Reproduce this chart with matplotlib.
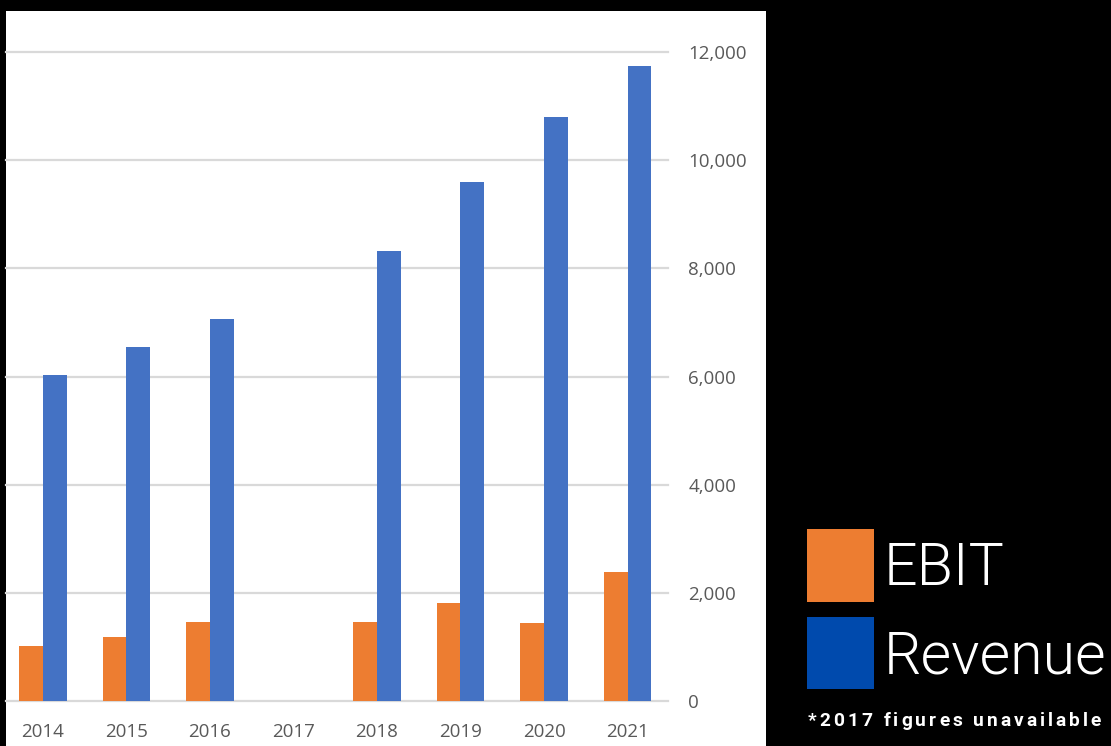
import matplotlib
matplotlib.use("Agg")
import matplotlib.pyplot as plt
import numpy as np
from matplotlib.patches import Rectangle
from matplotlib.font_manager import FontProperties

# ---- data ----
years = ["2014", "2015", "2016", "2017", "2018", "2019", "2020", "2021"]
ebit = [1020, 1190, 1465, np.nan, 1465, 1805, 1450, 2380]
revenue = [6030, 6545, 7060, np.nan, 8320, 9595, 10795, 11740]
yticks = [0, 2000, 4000, 6000, 8000, 10000, 12000]
ytick_labels = ["0", "2,000", "4,000", "6,000", "8,000", "10,000", "12,000"]
legend_labels = ["EBIT", "Revenue"]
footnote = "*2017 figures unavailable"

W, H = 1111, 746
fig = plt.figure(figsize=(W / 100, H / 100), dpi=100, facecolor="black")

def fx(x):
    return x / W

def fy(y):
    return 1 - y / H

# white panel
fig.patches.append(Rectangle((fx(6), 0), fx(766) - fx(6), fy(11), transform=fig.transFigure,
                             facecolor="white", edgecolor="none", zorder=-5))

ax_left, ax_right, ax_top, ax_bot = 6, 668, 52, 701
ax = fig.add_axes([fx(ax_left), fy(ax_bot), fx(ax_right) - fx(ax_left), fy(ax_top) - fy(ax_bot)])
ax.set_facecolor("none")

x = np.arange(len(years))
bw = 0.287
ax.bar(x - bw / 2, ebit, width=bw, color="#ED7D31", zorder=3)
ax.bar(x + bw / 2, revenue, width=bw, color="#4472C4", zorder=3)

ax.set_xlim(-0.443, 7.485)
ax.set_ylim(0, 12000)
ax.set_yticks(yticks)
ax.set_yticklabels(ytick_labels)
ax.set_xticks(x)
ax.set_xticklabels(years)
ax.yaxis.tick_right()
ax.grid(axis="y", color="#d9d9d9", linewidth=1.6, zorder=0)
for sp in ax.spines.values():
    sp.set_visible(False)
ax.tick_params(axis="y", length=0, pad=14.5, labelsize=13.5, labelcolor="#595959")
ax.tick_params(axis="x", length=0, pad=16, labelsize=13.5, labelcolor="#595959")
for lab in ax.get_xticklabels() + ax.get_yticklabels():
    lab.set_fontfamily("Open Sans")
for gl in ax.get_ygridlines():
    gl.set_clip_on(False)

# legend squares
fig.patches.append(Rectangle((fx(807), fy(602)), fx(874) - fx(807), fy(529) - fy(602),
                             transform=fig.transFigure, facecolor="#ED7D31", edgecolor="none"))
fig.patches.append(Rectangle((fx(807), fy(689)), fx(874) - fx(807), fy(617) - fy(689),
                             transform=fig.transFigure, facecolor="#004AAD", edgecolor="none"))
fig.text(fx(884), fy(585), legend_labels[0], color="white", fontsize=42.5, family="Roboto",
         weight=300, va="baseline", ha="left")
fig.text(fx(884), fy(673), legend_labels[1], color="white", fontsize=42.5, family="Roboto",
         weight=300, va="baseline", ha="left")

# footnote with letter spacing
fp = FontProperties(family="Roboto", weight="bold", size=13.8)
renderer = fig.canvas.get_renderer()

def adv(c):
    w1, _, _ = renderer.get_text_width_height_descent("a" + c + "a", fp, ismath=False)
    w0, _, _ = renderer.get_text_width_height_descent("aa", fp, ismath=False)
    return w1 - w0

advs = [adv(c) for c in footnote]
natural = sum(advs[:-1])
last_w, _, _ = renderer.get_text_width_height_descent(footnote[-1], fp, ismath=False)
target = 1101 - 808
track = (target - natural - last_w) / (len(footnote) - 1)
xpos = 808.0
for c, a in zip(footnote, advs):
    if c != " ":
        fig.text(fx(xpos), fy(726), c, color="white", fontproperties=fp, va="baseline", ha="left")
    xpos += a + track

fig.savefig("out.png", dpi=100, facecolor="black")
